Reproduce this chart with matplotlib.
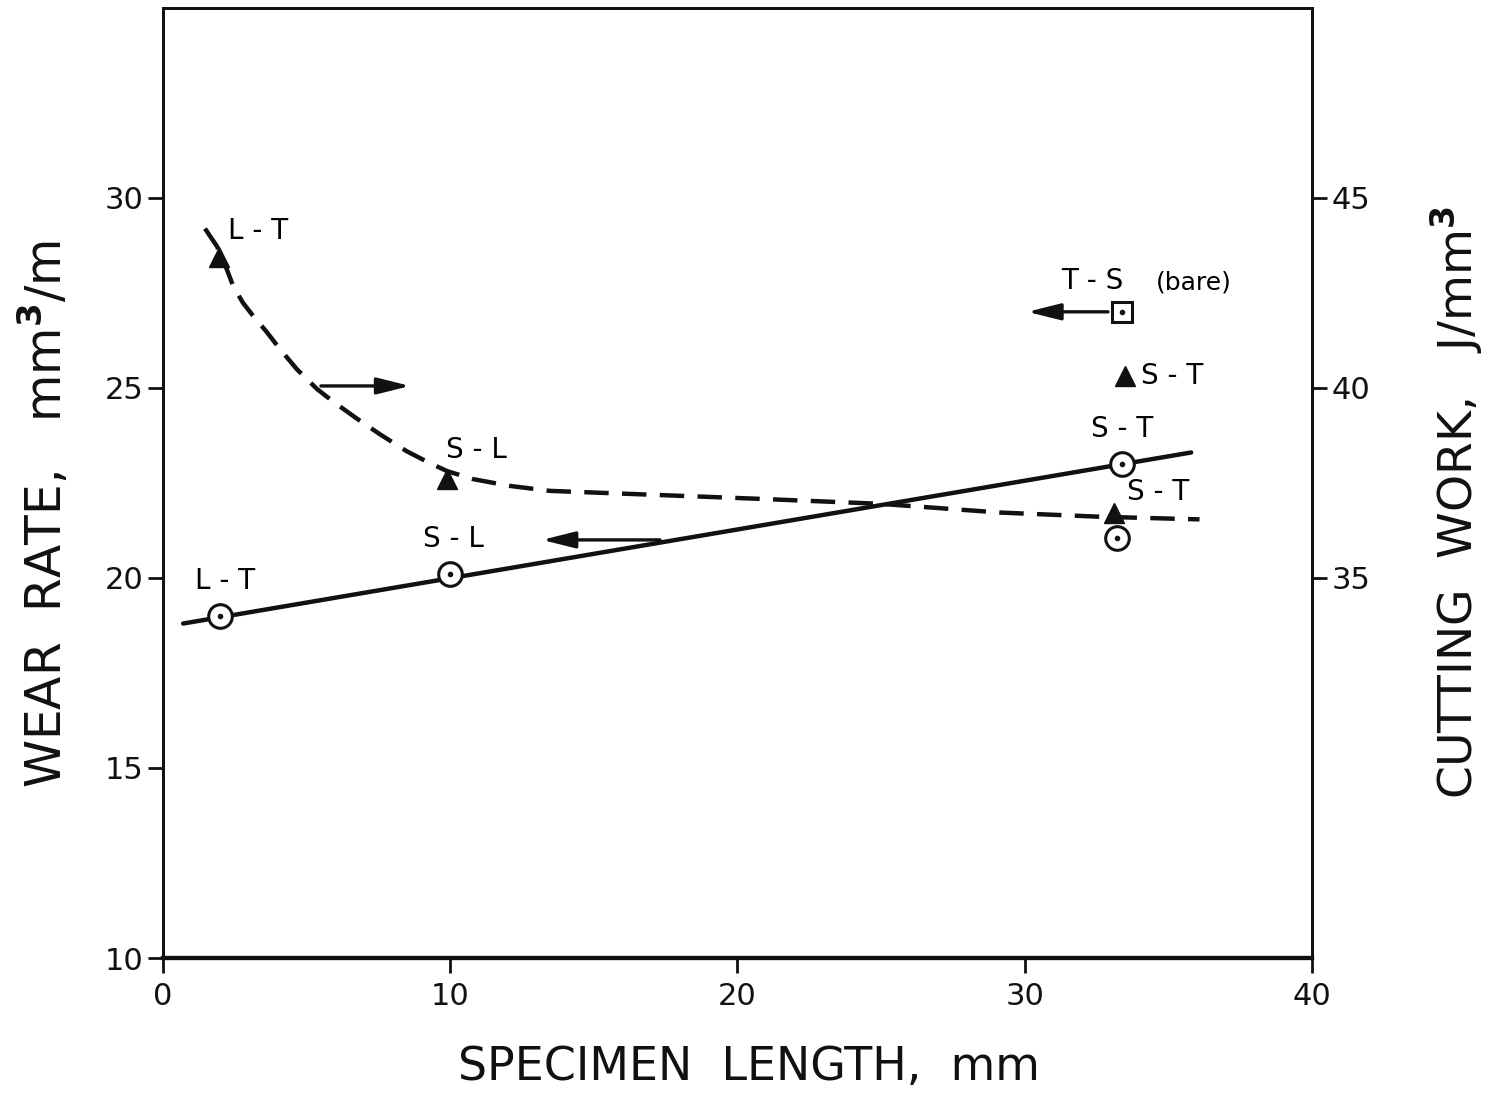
# Wear rate / cutting work vs specimen length

# Libraries
import matplotlib
matplotlib.use("Agg")
import matplotlib.pyplot as plt


# Data
# wear rate (left axis), circles
circle_x = [2.0, 10.0, 33.4]
circle_y = [19.0, 20.1, 23.0]
circle_labels = ["L - T", "S - L", "S - T"]
extra_circle_x = [33.2]
extra_circle_y = [21.05]

# T-S (bare), square, left axis
square_x = [33.4]
square_y = [27.0]

# solid fitted line (left axis)
fit_x = [0.7, 35.8]
fit_y = [18.8, 23.3]

# cutting work (right axis), triangles
tri_x = [1.95, 9.9, 33.1]
tri_y = [43.45, 37.6, 36.7]
tri_labels = ["L - T", "S - L", "S - T"]
tri_extra_x = [33.5]
tri_extra_y = [40.3]

# dashed curve (right axis)
curve_x = [1.46, 1.88, 2.23, 2.44, 2.78, 3.13, 3.62, 4.07, 4.66, 5.36, 5.92,
           6.75, 7.55, 8.49, 9.29, 9.89, 10.79, 12.08, 13.47, 16.95, 20.78,
           24.96, 29.13, 32.6, 36.09]
curve_y = [44.19, 43.72, 43.10, 42.68, 42.24, 41.90, 41.46, 41.02, 40.49, 39.97,
           39.64, 39.19, 38.78, 38.33, 38.02, 37.81, 37.60, 37.42, 37.29, 37.19,
           37.08, 36.95, 36.72, 36.61, 36.54]

x_ticks = [0, 10, 20, 30, 40]
left_ticks = [10, 15, 20, 25, 30]
right_ticks = [35, 40, 45]


# Setup/Config
plt.rcParams["font.family"] = "DejaVu Sans"
plt.rcParams["font.size"] = 20

ink = "#111111"
lw = 3.2

fig = plt.figure(figsize=[14.89, 11.05], dpi=100)
ax = fig.add_axes([0.1095, 0.133, 0.7715, 0.86])
ax2 = ax.twinx()

ax.set_xlim(0, 40)
ax.set_ylim(10, 35)
ax2.set_ylim(25, 50)

# solid line + circles
ax.plot(fit_x, fit_y, color=ink, lw=lw, solid_capstyle="round", zorder=2)
ax.plot(circle_x + extra_circle_x, circle_y + extra_circle_y, ls="none",
        marker="o", ms=17, mfc="white", mec=ink, mew=2.2, zorder=3)
ax.plot(circle_x + extra_circle_x, circle_y + extra_circle_y, ls="none",
        marker="o", ms=3, color=ink, zorder=4)

# square
ax.plot(square_x, square_y, ls="none", marker="s", ms=15, mfc="white",
        mec=ink, mew=2.2, zorder=3)
ax.plot(square_x, square_y, ls="none", marker="o", ms=3, color=ink, zorder=4)

# dashed curve + triangles
ax2.plot(curve_x, curve_y, color=ink, lw=lw, dashes=(5.5, 3), zorder=2)
ax2.plot(tri_x + tri_extra_x, tri_y + tri_extra_y, ls="none", marker="^",
         ms=15, color=ink, zorder=3)

# labels next to the marks
ax.text(circle_x[0] + 0.15, circle_y[0] + 0.55, circle_labels[0], ha="center", va="bottom")
ax.text(circle_x[1] + 0.1, circle_y[1] + 0.55, circle_labels[1], ha="center", va="bottom")
ax.text(circle_x[2], circle_y[2] + 0.55, circle_labels[2], ha="center", va="bottom")
ax2.text(tri_x[0] + 0.3, tri_y[0] + 0.3, tri_labels[0], ha="left", va="bottom")
ax2.text(tri_x[1] - 0.05, tri_y[1] + 0.4, tri_labels[1], ha="left", va="bottom")
ax2.text(tri_x[2] + 0.45, tri_y[2] + 0.2, tri_labels[2], ha="left", va="bottom")
ax2.text(tri_extra_x[0] + 0.55, tri_extra_y[0], "S - T", ha="left", va="center")
ax.text(square_x[0] - 1.05, square_y[0] + 0.45, "T - S", ha="center", va="bottom")
ax.text(square_x[0] + 2.5, square_y[0] + 0.45, "(bare)", ha="center", va="bottom",
        fontsize=18)

# arrows pointing to the axis each curve belongs to
arrow_kw = dict(arrowstyle="-|>,head_length=1.0,head_width=0.25", color=ink, lw=2.4)
ax2.annotate("", xy=(8.7, 40.05), xytext=(5.4, 40.05), arrowprops=arrow_kw)
ax.annotate("", xy=(13.1, 21.0), xytext=(17.4, 21.0), arrowprops=arrow_kw)
ax.annotate("", xy=(30.0, square_y[0]), xytext=(33.0, square_y[0]), arrowprops=arrow_kw)

# ticks and spines
ax.set_xticks(x_ticks)
ax.set_yticks(left_ticks)
ax2.set_yticks(right_ticks)
ax.set_xticklabels([str(t) for t in x_ticks], fontsize=22)
ax.set_yticklabels([str(t) for t in left_ticks], fontsize=22)
ax2.set_yticklabels([str(t) for t in right_ticks], fontsize=22)
ax.tick_params(axis="x", direction="out", length=11, width=2, pad=6, colors=ink)
ax.tick_params(axis="y", direction="out", length=11, width=2, pad=3, colors=ink)
ax2.tick_params(axis="y", direction="out", length=11, width=2, pad=3, colors=ink)

for a in (ax, ax2):
    for side in ["left", "right", "top"]:
        a.spines[side].set_linewidth(2.0)
        a.spines[side].set_color(ink)
    a.spines["bottom"].set_linewidth(3.0)
    a.spines["bottom"].set_color(ink)

# axis titles
fig.text(0.503, 0.014, "SPECIMEN  LENGTH,  mm", ha="center", va="bottom",
         fontsize=33, color=ink)
fig.text(0.030, 0.535, "WEAR  RATE,   mm$^\\mathbf{3}$/m", rotation=90, ha="center",
         va="center", fontsize=35, color=ink)
fig.text(0.978, 0.545, "CUTTING  WORK,   J/mm$^\\mathbf{3}$", rotation=90,
         ha="center", va="center", fontsize=34, color=ink)

# Printing
plt.savefig("out.png", dpi=100)
plt.close(fig)
